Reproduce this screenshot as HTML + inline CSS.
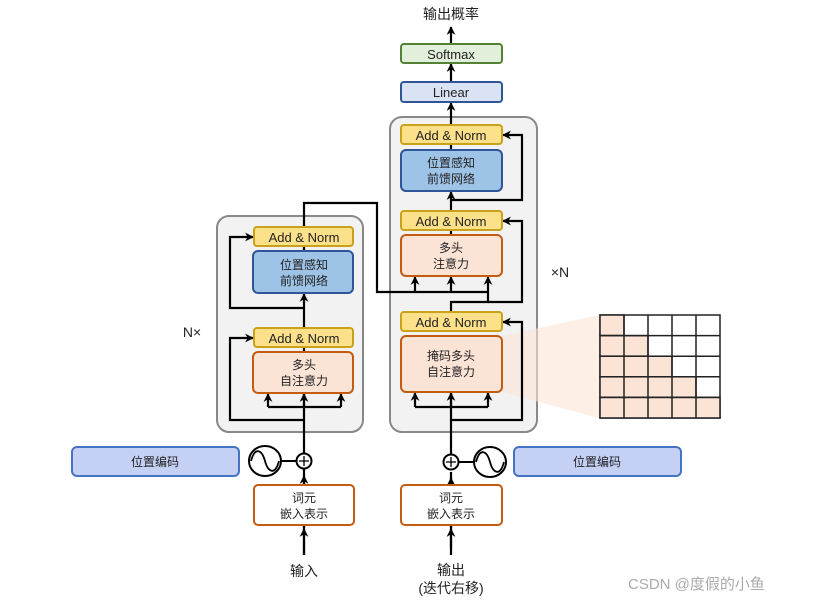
<!DOCTYPE html>
<html><head><meta charset="utf-8"><style>
html,body{margin:0;padding:0;background:#fff;}
svg{display:block;}
text{font-family:"Liberation Sans","Noto Sans CJK SC",sans-serif;fill:#222;}
.an{fill:#fde08a;stroke:#c9a21a;stroke-width:2;}
.ff{fill:#9dc3e6;stroke:#2f5597;stroke-width:2;}
.at{fill:#fbe3d6;stroke:#c55a11;stroke-width:2;}
.em{fill:#fff;stroke:#c55a11;stroke-width:2;}
.pe{fill:#c5d0f5;stroke:#4472c4;stroke-width:2;}
.l{fill:none;stroke:#000;stroke-width:2.2;}
</style></head><body>
<svg width="813" height="602" viewBox="0 0 813 602" xmlns="http://www.w3.org/2000/svg">
<defs><marker id="a" viewBox="0 0 10 10" refX="9" refY="5" markerWidth="4" markerHeight="4" orient="auto"><path d="M0,0L10,5L0,10L3,5z" fill="#000"/></marker></defs>
<!-- panels -->
<rect x="217" y="216" width="146" height="216" rx="12" fill="#f2f2f2" stroke="#888" stroke-width="2"/>
<rect x="390" y="117" width="147" height="315" rx="12" fill="#f2f2f2" stroke="#888" stroke-width="2"/>
<!-- fan -->
<polygon points="502,336 599,315 599,418 502,392" fill="#fbe3d6" opacity="0.6"/>
<!-- matrix -->
<g stroke="#222" stroke-width="1.5">
<rect x="600" y="315" width="120" height="103" fill="#fff"/>
<rect x="600" y="315" width="24" height="20.6" fill="#fbe3d6"/>
<rect x="600" y="335.6" width="48" height="20.6" fill="#fbe3d6"/>
<rect x="600" y="356.2" width="72" height="20.6" fill="#fbe3d6"/>
<rect x="600" y="376.8" width="96" height="20.6" fill="#fbe3d6"/>
<rect x="600" y="397.4" width="120" height="20.6" fill="#fbe3d6"/>
<path d="M624,315V418M648,315V418M672,315V418M696,315V418M600,335.6H720M600,356.2H720M600,376.8H720M600,397.4H720" fill="none"/>
</g>
<!-- connectors left -->
<path class="l" d="M304,555V469"/>
<path class="l" d="M304,528V476" marker-end="url(#a)"/>
<path class="l" d="M304,453V393"/>
<path class="l" d="M268,407H341"/>
<path class="l" d="M268,407V394" marker-end="url(#a)"/><path class="l" d="M304,407V394" marker-end="url(#a)"/><path class="l" d="M341,407V394" marker-end="url(#a)"/>
<path class="l" d="M304,420H230V338H253" marker-end="url(#a)"/>
<path class="l" d="M304,352V347"/>
<path class="l" d="M304,328V294" marker-end="url(#a)"/>
<path class="l" d="M304,308H230V237H253" marker-end="url(#a)"/>
<path class="l" d="M304,251V246"/>
<path class="l" d="M304,227V203H377V292H488"/>
<path class="l" d="M415,292V277" marker-end="url(#a)"/><path class="l" d="M451,292V277" marker-end="url(#a)"/>
<!-- connectors right -->
<path class="l" d="M451,548V472"/>
<path class="l" d="M451,528V478" marker-end="url(#a)"/>
<path class="l" d="M451,454V392"/>
<path class="l" d="M415,407H488"/>
<path class="l" d="M415,407V393" marker-end="url(#a)"/><path class="l" d="M451,407V393" marker-end="url(#a)"/><path class="l" d="M488,407V393" marker-end="url(#a)"/>
<path class="l" d="M451,420H522V322H503" marker-end="url(#a)"/>
<path class="l" d="M451,312V302H488V277" marker-end="url(#a)"/>
<path class="l" d="M488,302H522V221H503" marker-end="url(#a)"/>
<path class="l" d="M451,235V230"/>
<path class="l" d="M451,211V192" marker-end="url(#a)"/>
<path class="l" d="M451,200H522V135H503" marker-end="url(#a)"/>
<path class="l" d="M451,150V144"/>
<path class="l" d="M451,125V103" marker-end="url(#a)"/>
<path class="l" d="M451,82V64" marker-end="url(#a)"/>
<path class="l" d="M451,44V27" marker-end="url(#a)"/>
<path class="l" d="M304,555V529" marker-end="url(#a)"/>
<!-- boxes left -->
<rect class="an" x="254" y="227" width="99" height="19" rx="3"/>
<text x="304" y="242" font-size="13" text-anchor="middle">Add &amp; Norm</text>
<rect class="ff" x="253" y="251" width="100" height="42" rx="5"/>
<text x="304" y="269" font-size="12" text-anchor="middle">位置感知</text>
<text x="304" y="285" font-size="12" text-anchor="middle">前馈网络</text>
<rect class="an" x="254" y="328" width="99" height="19" rx="3"/>
<text x="304" y="343" font-size="13" text-anchor="middle">Add &amp; Norm</text>
<rect class="at" x="253" y="352" width="100" height="41" rx="5"/>
<text x="304" y="369" font-size="12" text-anchor="middle">多头</text>
<text x="304" y="385" font-size="12" text-anchor="middle">自注意力</text>
<!-- boxes right -->
<rect x="401" y="44" width="101" height="19" rx="3" fill="#e2efda" stroke="#548235" stroke-width="2"/>
<text x="451" y="59" font-size="13" text-anchor="middle">Softmax</text>
<rect x="401" y="82" width="101" height="20" rx="3" fill="#dae3f3" stroke="#2f5597" stroke-width="2"/>
<text x="451" y="97" font-size="13" text-anchor="middle">Linear</text>
<rect class="an" x="401" y="125" width="101" height="19" rx="3"/>
<text x="451" y="140" font-size="13" text-anchor="middle">Add &amp; Norm</text>
<rect class="ff" x="401" y="150" width="101" height="41" rx="5"/>
<text x="451" y="167" font-size="12" text-anchor="middle">位置感知</text>
<text x="451" y="183" font-size="12" text-anchor="middle">前馈网络</text>
<rect class="an" x="401" y="211" width="101" height="19" rx="3"/>
<text x="451" y="226" font-size="13" text-anchor="middle">Add &amp; Norm</text>
<rect class="at" x="401" y="235" width="101" height="41" rx="5"/>
<text x="451" y="252" font-size="12" text-anchor="middle">多头</text>
<text x="451" y="268" font-size="12" text-anchor="middle">注意力</text>
<rect class="an" x="401" y="312" width="101" height="19" rx="3"/>
<text x="451" y="327" font-size="13" text-anchor="middle">Add &amp; Norm</text>
<rect class="at" x="401" y="336" width="101" height="56" rx="5"/>
<text x="451" y="360" font-size="12" text-anchor="middle">掩码多头</text>
<text x="451" y="376" font-size="12" text-anchor="middle">自注意力</text>
<!-- positional -->
<rect class="pe" x="72" y="447" width="167" height="29" rx="5"/>
<text x="155" y="466" font-size="12" text-anchor="middle">位置编码</text>
<rect class="pe" x="514" y="447" width="167" height="29" rx="5"/>
<text x="597" y="466" font-size="12" text-anchor="middle">位置编码</text>
<g fill="#fff" stroke="#000" stroke-width="2">
<ellipse cx="265" cy="461" rx="16" ry="15"/>
<path d="M281,461H297" fill="none"/>
<circle cx="304" cy="461" r="7.5"/>
<path d="M299,461H309M304,456V466" fill="none" stroke-width="1.3"/>
<ellipse cx="490" cy="462" rx="16" ry="15"/>
<path d="M458,462H474" fill="none"/>
<circle cx="451" cy="462" r="7.5"/>
<path d="M446,462H456M451,457V467" fill="none" stroke-width="1.3"/>
</g>
<path d="M251,461C255,446 262,450 265,461S275,476 279,461" fill="none" stroke="#000" stroke-width="1.8"/>
<path d="M476,462C480,447 487,451 490,462S500,477 504,462" fill="none" stroke="#000" stroke-width="1.8"/>
<!-- embeddings -->
<rect class="em" x="254" y="485" width="100" height="40" rx="4"/>
<text x="304" y="502" font-size="12" text-anchor="middle">词元</text>
<text x="304" y="518" font-size="12" text-anchor="middle">嵌入表示</text>
<rect class="em" x="401" y="485" width="101" height="40" rx="4"/>
<text x="451" y="502" font-size="12" text-anchor="middle">词元</text>
<text x="451" y="518" font-size="12" text-anchor="middle">嵌入表示</text>
<path class="l" d="M451,555V529" marker-end="url(#a)"/>
<!-- labels -->
<text x="451" y="19" font-size="14" text-anchor="middle">输出概率</text>
<text x="304" y="576" font-size="14" text-anchor="middle">输入</text>
<text x="451" y="575" font-size="14" text-anchor="middle">输出</text>
<text x="451" y="593" font-size="14" text-anchor="middle">(迭代右移)</text>
<text x="192" y="337" font-size="14" text-anchor="middle">N×</text>
<text x="560" y="277" font-size="14" text-anchor="middle">×N</text>
<text x="628" y="589" font-size="15" fill="#999" style="fill:#aaa">CSDN @度假的小鱼</text>
</svg>
</body></html>
